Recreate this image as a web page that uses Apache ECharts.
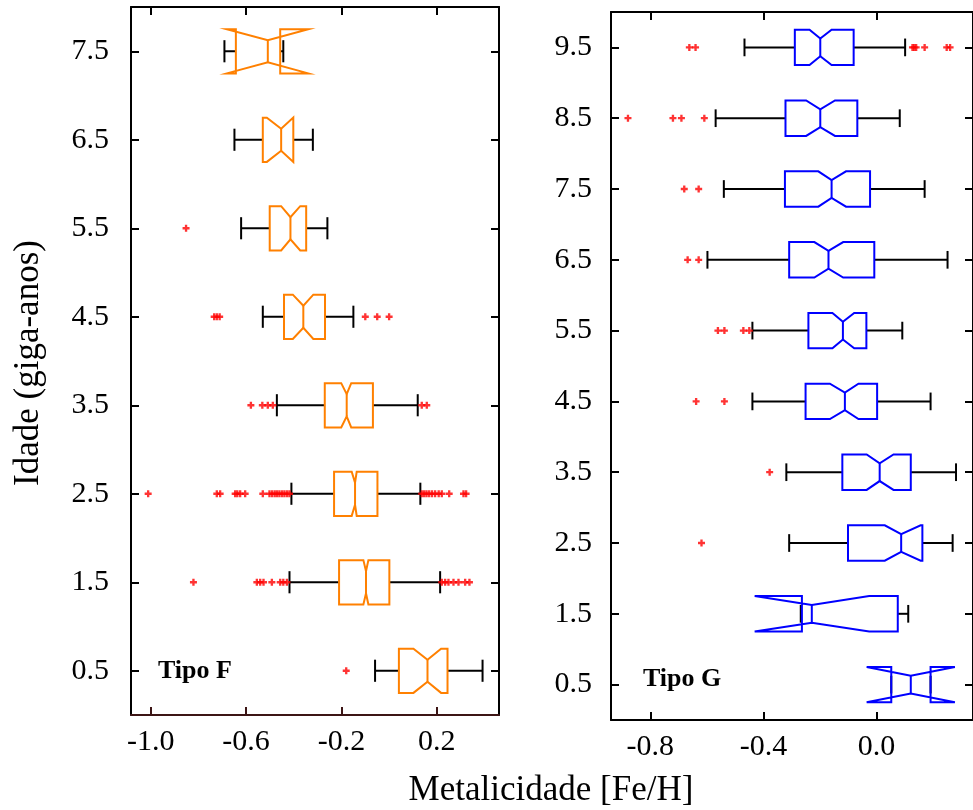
<!DOCTYPE html>
<html>
<head>
<meta charset="utf-8">
<script src="https://cdn.jsdelivr.net/npm/echarts@6/dist/echarts.min.js"></script>
<style>html,body{margin:0;padding:0;background:#fff}#c{width:973px;height:810px}</style>
</head>
<body>
<div id="c"></div>
<script>
// ---------- DATA ----------
const fAges = [0.5, 1.5, 2.5, 3.5, 4.5, 5.5, 6.5, 7.5];
const gAges = [0.5, 1.5, 2.5, 3.5, 4.5, 5.5, 6.5, 7.5, 8.5, 9.5];

// per age: lower whisker, Q1, notch low, median, notch high, Q3, upper whisker
const fWhiskerLow = [-0.059, -0.418, -0.410, -0.471, -0.530, -0.621, -0.649, -0.691];
const fQ1         = [ 0.041, -0.210, -0.231, -0.270, -0.441, -0.501, -0.530, -0.643];
const fNotchLow   = [ 0.102, -0.108, -0.157, -0.201, -0.404, -0.453, -0.513, -0.681];
const fMedian     = [ 0.161, -0.097, -0.143, -0.178, -0.360, -0.414, -0.453, -0.509];
const fNotchHigh  = [ 0.218, -0.087, -0.136, -0.159, -0.318, -0.373, -0.402, -0.339];
const fQ3         = [ 0.245,  0.001, -0.049, -0.068, -0.269, -0.348, -0.402, -0.457];
const fWhiskerHigh= [ 0.392,  0.214,  0.131,  0.120, -0.150, -0.259, -0.320, -0.444];
const fOutliers = [
  [-0.180],
  [-0.821, -0.555, -0.541, -0.527, -0.492, -0.457, -0.444, -0.429, 0.221, 0.235, 0.249, 0.270, 0.291, 0.319, 0.337],
  [-1.011, -0.723, -0.709, -0.646, -0.637, -0.625, -0.604, -0.530, -0.502, -0.491, -0.480, -0.470, -0.460, -0.449, -0.439, -0.428, -0.418,
    0.137, 0.147, 0.157, 0.168, 0.180, 0.193, 0.208, 0.221, 0.252, 0.312, 0.323],
  [-0.580, -0.532, -0.509, -0.488, 0.137, 0.158],
  [-0.734, -0.723, -0.711, -0.100, -0.050, 0.000],
  [-0.852],
  [],
  []
];

const gWhiskerLow = [ 0.052, -0.268, -0.309, -0.319, -0.439, -0.439, -0.598, -0.540, -0.569, -0.467];
const gQ1         = [ 0.052, -0.264, -0.101, -0.121, -0.251, -0.241, -0.309, -0.324, -0.322, -0.289];
const gNotchLow   = [-0.035, -0.431,  0.029, -0.035, -0.165, -0.156, -0.220, -0.206, -0.249, -0.237];
const gMedian     = [ 0.121, -0.229,  0.087,  0.011, -0.112, -0.119, -0.170, -0.159, -0.199, -0.199];
const gNotchHigh  = [ 0.277, -0.026,  0.156,  0.060, -0.064, -0.079, -0.118, -0.108, -0.147, -0.159];
const gQ3         = [ 0.191,  0.075,  0.162,  0.121,  0.002, -0.036, -0.008, -0.023, -0.068, -0.081];
const gWhiskerHigh= [ 0.191,  0.112,  0.269,  0.281,  0.191,  0.091,  0.251,  0.170,  0.082,  0.101];
const gOutliers = [
  [],
  [],
  [-0.619],
  [-0.378],
  [-0.638, -0.538],
  [-0.561, -0.538, -0.471, -0.450],
  [-0.668, -0.629],
  [-0.680, -0.629],
  [-0.879, -0.720, -0.690, -0.609],
  [-0.662, -0.640, 0.127, 0.133, 0.140, 0.170, 0.248, 0.260]
];

const fXTicks = [-1.0, -0.6, -0.2, 0.2];
const gXTicks = [-0.8, -0.4, 0.0];

// ---------- BUILD ----------
function boxRows(ages, wl, q1, nl, md, nh, q3, wh) {
  return ages.map((a, i) => [a, wl[i], q1[i], nl[i], md[i], nh[i], q3[i], wh[i]]);
}
function outlierPts(ages, outs) {
  const pts = [];
  ages.forEach((a, i) => outs[i].forEach(v => pts.push([v, a])));
  return pts;
}
function makeRender(color) {
  return function (params, api) {
    const y = api.value(0);
    const wl = api.value(1), q1 = api.value(2), nl = api.value(3), md = api.value(4),
          nh = api.value(5), q3 = api.value(6), wh = api.value(7);
    const hw = 0.25, nd = 0.125, cap = 0.125;
    const P = (x, yy) => api.coord([x, yy]);
    const top = y + hw, bot = y - hw;
    const black = { stroke: '#000', lineWidth: 2 };
    const poly = [P(q1, top), P(nl, top), P(md, y + nd), P(nh, top), P(q3, top),
                  P(q3, bot), P(nh, bot), P(md, y - nd), P(nl, bot), P(q1, bot)];
    const line = (a, b, st) => ({ type: 'line', shape: { x1: a[0], y1: a[1], x2: b[0], y2: b[1] }, style: st });
    return {
      type: 'group',
      children: [
        line(P(wl, y), P(q1, y), black),
        line(P(q3, y), P(wh, y), black),
        line(P(wl, y - cap), P(wl, y + cap), black),
        line(P(wh, y - cap), P(wh, y + cap), black),
        { type: 'polygon', shape: { points: poly }, style: { fill: 'none', stroke: color, lineWidth: 2 } },
        line(P(md, y + nd), P(md, y - nd), { stroke: color, lineWidth: 2 })
      ]
    };
  };
}

const FONT = 'Liberation Serif';
const plusSym = 'path://M2,0H4V2H6V4H4V6H2V4H0V2H2Z';
const fmt1 = v => Number(v).toFixed(1);

function xAx(grid, min, max, ticks, pos, show, col) {
  return {
    type: 'value', gridIndex: grid, min: min, max: max, position: pos,
    axisLine: { show: true, onZero: false, lineStyle: { color: col, width: 2 } },
    axisTick: { show: true, inside: true, length: 8, customValues: ticks, lineStyle: { color: col, width: 2 } },
    axisLabel: { show: show, customValues: ticks, formatter: fmt1, margin: 12,
      fontFamily: FONT, fontSize: 30, color: '#000' },
    splitLine: { show: false }
  };
}
function yAx(grid, min, max, ticks, pos, show, margin) {
  return {
    type: 'value', gridIndex: grid, min: min, max: max, position: pos,
    axisLine: { show: true, onZero: false, lineStyle: { color: '#000', width: 2 } },
    axisTick: { show: true, inside: true, length: 8, customValues: ticks, lineStyle: { color: '#000', width: 2 } },
    axisLabel: { show: show, customValues: ticks, formatter: fmt1, margin: margin,
      fontFamily: FONT, fontSize: 30, color: '#000' },
    splitLine: { show: false }
  };
}

const chart = echarts.init(document.getElementById('c'), null, { renderer: 'canvas' });
chart.setOption({
  animation: false,
  backgroundColor: '#fff',
  grid: [
    { left: 131, top: 7, width: 368, height: 708 },
    { left: 611, top: 12, width: 369, height: 708 }
  ],
  xAxis: [
    xAx(0, -1.083, 0.461, fXTicks, 'bottom', true, '#3c1515'),
    xAx(0, -1.083, 0.461, fXTicks, 'top', false, '#000'),
    xAx(1, -0.939, 0.341, gXTicks, 'bottom', true, '#000'),
    xAx(1, -0.939, 0.341, gXTicks, 'top', false, '#000')
  ],
  yAxis: [
    yAx(0, 0, 8, fAges, 'left', true, 22),
    yAx(0, 0, 8, fAges, 'right', false, 10),
    yAx(1, 0, 10, gAges, 'left', true, 19),
    yAx(1, 0, 10, gAges, 'right', false, 10)
  ],
  series: [
    { type: 'custom', xAxisIndex: 0, yAxisIndex: 0, renderItem: makeRender('#ff8000'),
      encode: { x: [1, 2, 3, 4, 5, 6, 7], y: 0 },
      data: boxRows(fAges, fWhiskerLow, fQ1, fNotchLow, fMedian, fNotchHigh, fQ3, fWhiskerHigh) },
    { type: 'scatter', xAxisIndex: 0, yAxisIndex: 0, symbol: plusSym, symbolSize: 7,
      itemStyle: { color: '#ff0000' }, data: outlierPts(fAges, fOutliers) },
    { type: 'custom', xAxisIndex: 2, yAxisIndex: 2, renderItem: makeRender('#0000ff'),
      encode: { x: [1, 2, 3, 4, 5, 6, 7], y: 0 },
      data: boxRows(gAges, gWhiskerLow, gQ1, gNotchLow, gMedian, gNotchHigh, gQ3, gWhiskerHigh) },
    { type: 'scatter', xAxisIndex: 2, yAxisIndex: 2, symbol: plusSym, symbolSize: 7,
      itemStyle: { color: '#ff0000' }, data: outlierPts(gAges, gOutliers) }
  ],
  graphic: [
    { type: 'text', x: 158, y: 671, style: { text: 'Tipo F', font: 'bold 26px "Liberation Serif"', fill: '#000', align: 'left', verticalAlign: 'middle' } },
    { type: 'text', x: 643, y: 679, style: { text: 'Tipo G', font: 'bold 26px "Liberation Serif"', fill: '#000', align: 'left', verticalAlign: 'middle' } },
    { type: 'text', x: 551, y: 791, style: { text: 'Metalicidade [Fe/H]', font: '35px "Liberation Serif"', fill: '#000', align: 'center', verticalAlign: 'middle' } },
    { type: 'text', x: 29, y: 363, rotation: Math.PI / 2, style: { text: 'Idade (giga-anos)', font: '35px "Liberation Serif"', fill: '#000', align: 'center', verticalAlign: 'middle' } }
  ]
});
</script>
</body>
</html>
